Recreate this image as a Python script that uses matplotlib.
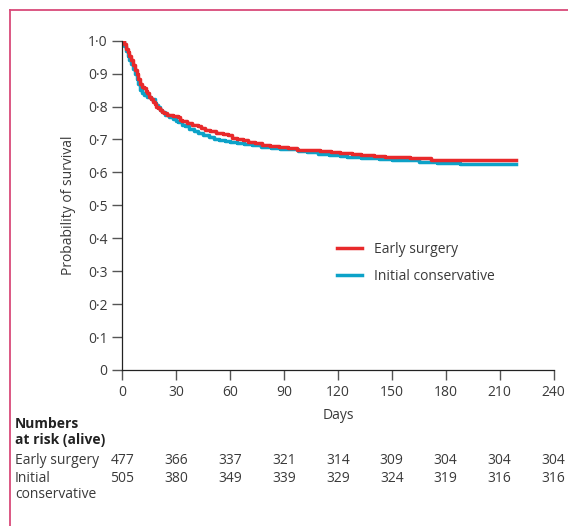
import matplotlib
matplotlib.use("Agg")
import matplotlib.pyplot as plt
from matplotlib.lines import Line2D
import matplotlib.transforms as mtransforms

plt.rcParams['font.family'] = ['Open Sans', 'DejaVu Sans']

# step curves (day, survival)
early_days = [0, 1, 2, 3, 4, 5, 6, 7, 8, 9, 10, 11, 12, 13, 14, 15, 16, 17, 18, 19,
              20, 21, 22, 23, 25, 28, 31, 32, 33, 36, 39, 42, 44, 46, 49, 52, 56, 59,
              61, 64, 67, 70, 74, 78, 82, 87, 92, 97, 103, 110, 116, 121, 128, 133,
              140, 146, 154, 160, 167, 172, 219]
early_surv = [1.0, 0.99, 0.975, 0.965, 0.955, 0.94, 0.925, 0.91, 0.90, 0.885, 0.868,
              0.86, 0.855, 0.848, 0.84, 0.83, 0.822, 0.815, 0.808, 0.80, 0.795, 0.79,
              0.785, 0.78, 0.775, 0.772, 0.767, 0.76, 0.755, 0.75, 0.745, 0.74, 0.735,
              0.73, 0.725, 0.72, 0.717, 0.713, 0.706, 0.70, 0.697, 0.692, 0.688, 0.683,
              0.68, 0.677, 0.673, 0.669, 0.667, 0.665, 0.662, 0.658, 0.655, 0.653,
              0.65, 0.648, 0.646, 0.644, 0.643, 0.638, 0.637]

cons_days = [0, 1, 2, 3, 4, 5, 6, 7, 8, 9, 10, 11, 12, 14, 16, 18, 19, 20, 21, 22,
             24, 26, 28, 30, 31, 33, 35, 37, 40, 42, 45, 48, 51, 54, 57, 60, 64, 68,
             72, 77, 83, 88, 93, 98, 103, 109, 115, 121, 125, 133, 143, 150, 158, 165,
             175, 182, 188, 219]
cons_surv = [1.0, 0.985, 0.97, 0.955, 0.94, 0.93, 0.915, 0.90, 0.885, 0.87, 0.85,
             0.84, 0.835, 0.83, 0.822, 0.812, 0.805, 0.798, 0.79, 0.783, 0.775, 0.768,
             0.762, 0.755, 0.752, 0.745, 0.74, 0.733, 0.726, 0.72, 0.715, 0.708, 0.703,
             0.697, 0.694, 0.691, 0.688, 0.685, 0.682, 0.678, 0.675, 0.672, 0.67,
             0.665, 0.661, 0.657, 0.654, 0.65, 0.646, 0.644, 0.641, 0.639, 0.637,
             0.633, 0.63, 0.628, 0.626, 0.626]

risk_days = [0, 30, 60, 90, 120, 150, 180, 210, 240]
risk_early = [477, 366, 337, 321, 314, 309, 304, 304, 304]
risk_cons = [505, 380, 349, 339, 329, 324, 319, 316, 316]

y_ticks = [0, 0.1, 0.2, 0.3, 0.4, 0.5, 0.6, 0.7, 0.8, 0.9, 1.0]
y_labels = ['0', '0·1', '0·2', '0·3', '0·4', '0·5', '0·6', '0·7', '0·8', '0·9', '1·0']

red = '#e8292b'
blue = '#0ca2c8'
txt = '#3a3a3a'

fig = plt.figure(figsize=(5.68, 5.26), dpi=100)
ax = fig.add_axes([0.2153, 0.2966, 0.7592, 0.626])

ax.step(cons_days, cons_surv, where='post', color=blue, lw=2.5, label='Initial conservative')
ax.step(early_days, early_surv, where='post', color=red, lw=2.5, label='Early surgery')

ax.set_xlim(0, 240)
ax.set_ylim(0, 1.0)
ax.set_xticks(risk_days)
ax.set_yticks(y_ticks)
ax.set_yticklabels(y_labels)
ax.spines['top'].set_visible(False)
ax.spines['right'].set_visible(False)
for s in ['left', 'bottom']:
    ax.spines[s].set_color('#222222')
    ax.spines[s].set_linewidth(0.9)
    ax.spines[s].set_clip_on(False)
ax.spines['left'].set_bounds(0, 1.0)
ax.tick_params(colors='#555555', labelcolor=txt, labelsize=10, length=7, width=1)
ax.set_ylabel('Probability of survival', fontsize=10, color=txt, labelpad=9)
ax.set_xlabel('Days', fontsize=10, color=txt, labelpad=6)

h, l = ax.get_legend_handles_labels()
ax.legend(h[::-1], l[::-1], frameon=False, loc='center left', bbox_to_anchor=(0.468, 0.325),
          fontsize=10, handlelength=1.8, handletextpad=0.9, labelspacing=0.85, labelcolor=txt)

# numbers at risk table
fig.text(15 / 568, 1 - 424 / 526, 'Numbers', fontsize=10, fontweight='bold', color='#222222', va='center')
fig.text(15 / 568, 1 - 440 / 526, 'at risk (alive)', fontsize=10, fontweight='bold', color='#222222', va='center')
fig.text(15 / 568, 1 - 461 / 526, 'Early surgery', fontsize=10, color=txt, va='center')
fig.text(15 / 568, 1 - 478 / 526, 'Initial', fontsize=10, color=txt, va='center')
fig.text(15 / 568, 1 - 495 / 526, 'conservative', fontsize=10, color=txt, va='center')
trans = mtransforms.blended_transform_factory(ax.transData, fig.transFigure)
for d, a, b in zip(risk_days, risk_early, risk_cons):
    ax.text(d, 1 - 461 / 526, str(a), transform=trans, ha='center', va='center', fontsize=10, color=txt, clip_on=False)
    ax.text(d, 1 - 478 / 526, str(b), transform=trans, ha='center', va='center', fontsize=10, color=txt, clip_on=False)

# pink frame lines (top and left)
border = '#d94a7a'
fig.add_artist(Line2D([10 / 568, 1], [1 - 10 / 526, 1 - 10 / 526], color=border, lw=1.3, transform=fig.transFigure))
fig.add_artist(Line2D([10 / 568, 10 / 568], [0, 1 - 10 / 526], color=border, lw=1.3, transform=fig.transFigure))

fig.savefig('out.png', dpi=100)
